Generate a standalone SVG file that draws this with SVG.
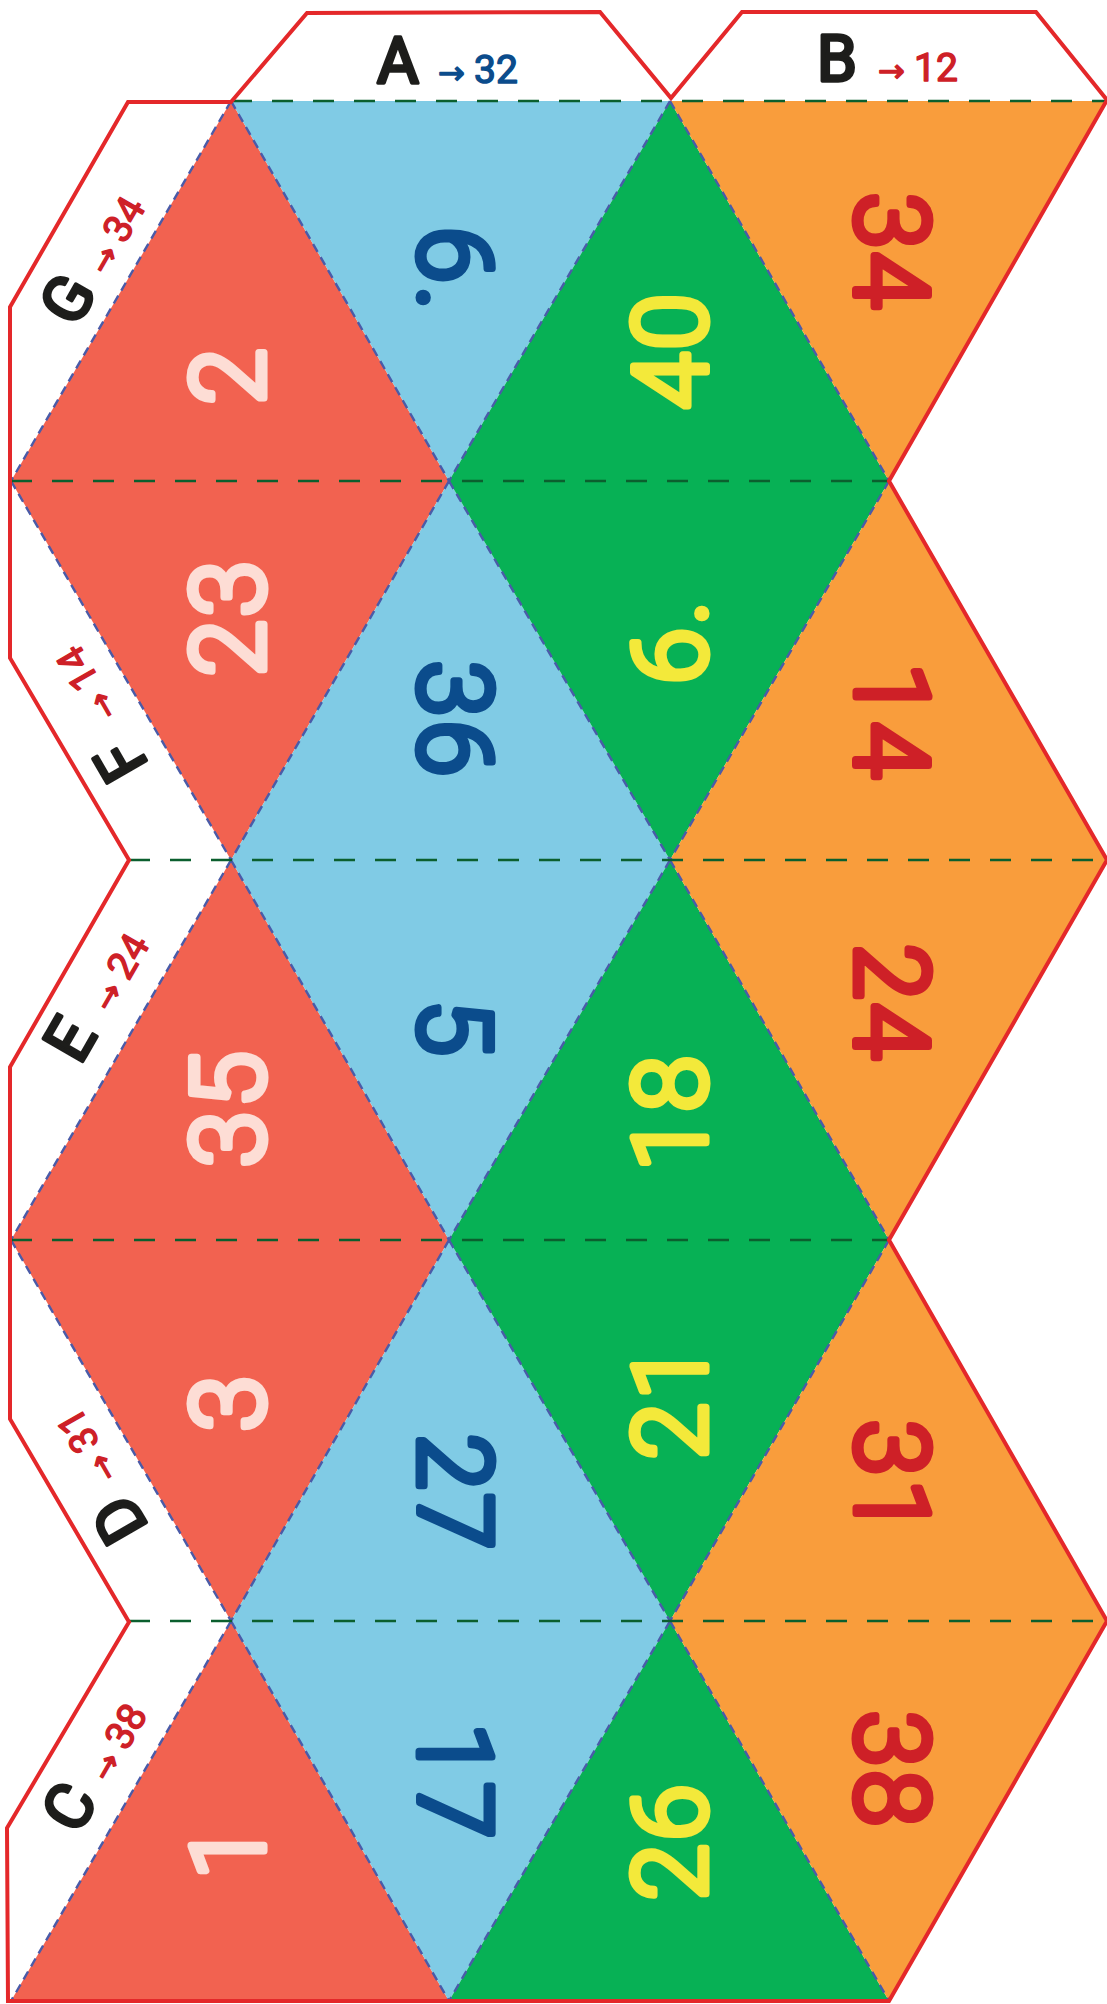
<svg xmlns="http://www.w3.org/2000/svg" width="1107" height="2004" viewBox="0 0 1107 2004">
<style>
text{font-family:Roboto,"Liberation Sans",Arial,sans-serif;stroke-linejoin:round;stroke-linecap:round}
.n{font-size:102px;font-weight:300;text-anchor:middle;stroke-width:7px;letter-spacing:3px}
.r{fill:#F26250}.b{fill:#80CBE5}.g{fill:#07B155}.o{fill:#F99D3C}
.rt{fill:#FDDDD5;stroke:#FDDDD5}.bt{fill:#0B4C8C;stroke:#0B4C8C}.gt{fill:#F3E93A;stroke:#F3E93A}.ot{fill:#CE2027;stroke:#CE2027}
.l{font-size:64px;font-weight:400;fill:#1D1D1B;stroke:#1D1D1B;stroke-width:3.5px}
.s{font-size:39px;font-weight:400;stroke-width:1.4px}
.a{font-family:"DejaVu Sans",sans-serif;font-size:32px}
.red{fill:#CE2027;stroke:#CE2027}.blue{fill:#0B4C8C;stroke:#0B4C8C}
.h{stroke:#0B5F2E;stroke-width:2.6;stroke-dasharray:21 20;fill:none}
.d{stroke:#4A5BA8;stroke-width:2.4;stroke-dasharray:9 6;fill:none}
.cut{stroke:#E4282A;stroke-width:4;fill:none;stroke-linejoin:miter}
</style>
<g id="faces">
<g id="t2"><path class="r" d="M231 101L11 481H449Z"/><text class="n rt" transform="translate(227 375) rotate(-90)" y="37">2</text></g>
<g id="t23"><path class="r" d="M11 481H449L231 860Z"/><text class="n rt" transform="translate(227 617) rotate(-90)" y="37">23</text></g>
<g id="t35"><path class="r" d="M231 860L11 1240H449Z"/><text class="n rt" transform="translate(227 1108) rotate(-90)" y="37">35</text></g>
<g id="t3"><path class="r" d="M11 1240H449L231 1621Z"/><text class="n rt" transform="translate(227 1402) rotate(-90)" y="37">3</text></g>
<g id="t1"><path class="r" d="M231 1621L11 2001H449Z"/><text class="n rt" transform="translate(227 1850) rotate(-90)" y="37">1</text></g>
<g id="t6"><path class="b" d="M231 101H670L449 481Z"/><text class="n bt" transform="translate(456 270) rotate(90)" y="37">6.</text></g>
<g id="t36"><path class="b" d="M449 481L231 860H670Z"/><text class="n bt" transform="translate(456 720) rotate(90)" y="37">36</text></g>
<g id="t5"><path class="b" d="M231 860H670L449 1240Z"/><text class="n bt" transform="translate(456 1029) rotate(90)" y="37">5</text></g>
<g id="t27"><path class="b" d="M449 1240L231 1621H670Z"/><text class="n bt" transform="translate(456 1493) rotate(90)" y="37">27</text></g>
<g id="t17"><path class="b" d="M231 1621H670L449 2001Z"/><text class="n bt" transform="translate(456 1782) rotate(90)" y="37">17</text></g>
<g id="t40"><path class="g" d="M670 101L449 481H889Z"/><text class="n gt" transform="translate(669 350) rotate(-90)" y="37">40</text></g>
<g id="t6b"><path class="g" d="M449 481H889L670 860Z"/><text class="n gt" transform="translate(669 641) rotate(-90)" y="37">6.</text></g>
<g id="t18"><path class="g" d="M670 860L449 1240H889Z"/><text class="n gt" transform="translate(669 1112) rotate(-90)" y="37">18</text></g>
<g id="t21"><path class="g" d="M449 1240H889L670 1621Z"/><text class="n gt" transform="translate(669 1400) rotate(-90)" y="37">21</text></g>
<g id="t26"><path class="g" d="M670 1621L449 2001H889Z"/><text class="n gt" transform="translate(669 1841) rotate(-90)" y="37">26</text></g>
<g id="t34"><path class="o" d="M670 101H1107L889 481Z"/><text class="n ot" transform="translate(893 252) rotate(90)" y="37">34</text></g>
<g id="t14"><path class="o" d="M889 481L670 860H1107Z"/><text class="n ot" transform="translate(893 722) rotate(90)" y="37">14</text></g>
<g id="t24"><path class="o" d="M670 860H1107L889 1240Z"/><text class="n ot" transform="translate(893 1003) rotate(90)" y="37">24</text></g>
<g id="t31"><path class="o" d="M889 1240L670 1621H1107Z"/><text class="n ot" transform="translate(893 1479) rotate(90)" y="37">31</text></g>
<g id="t38"><path class="o" d="M670 1621H1107L889 2001Z"/><text class="n ot" transform="translate(893 1770) rotate(90)" y="37">38</text></g>
</g>
<g id="connectors">
<path class="d" d="M231 101L11 481M231 101L449 481M670 101L449 481M670 101L889 481"/>
<path class="d" d="M11 481L231 860M449 481L231 860M449 481L670 860M889 481L670 860"/>
<path class="d" d="M231 860L11 1240M231 860L449 1240M670 860L449 1240M670 860L889 1240"/>
<path class="d" d="M11 1240L231 1621M449 1240L231 1621M449 1240L670 1621M889 1240L670 1621"/>
<path class="d" d="M231 1621L11 2001M231 1621L449 2001M670 1621L449 2001M670 1621L889 2001"/>
<path class="h" d="M231 101H1107M11 481H889M129 860H1107M11 1240H889M129 1621H1107"/>
</g>
<g id="outline">
<path class="cut" d="M231 102L307 13L600 12L671 98L742 12L1036 12L1107 100L889 481L1107 860L889 1240L1107 1621L889 2001L8 2001L7 1828L129 1622L10 1419L10 1067L129 860L10 658L10 307L128 102Z"/>
</g>
<g id="flap-A" transform="translate(377 83)"><text class="l">A</text><text class="s blue"><tspan class="a" x="61" y="1">→</tspan><tspan x="97" y="0">32</tspan></text></g>
<g id="flap-B" transform="translate(817 81)"><text class="l">B</text><text class="s red"><tspan class="a" x="61" y="1">→</tspan><tspan x="97" y="0">12</tspan></text></g>
<g id="flap-G" transform="translate(76 329) rotate(-60)"><text class="l">G</text><text class="s red"><tspan class="a" x="61" y="1">→</tspan><tspan x="97" y="0">34</tspan></text></g>
<g id="flap-F" transform="translate(149 765) rotate(-120)"><text class="l">F</text><text class="s red"><tspan class="a" x="61" y="1">→</tspan><tspan x="97" y="0">14</tspan></text></g>
<g id="flap-E" transform="translate(80 1066) rotate(-60)"><text class="l">E</text><text class="s red"><tspan class="a" x="61" y="1">→</tspan><tspan x="97" y="0">24</tspan></text></g>
<g id="flap-D" transform="translate(149 1527) rotate(-120)"><text class="l">D</text><text class="s red"><tspan class="a" x="61" y="1">→</tspan><tspan x="97" y="0">31</tspan></text></g>
<g id="flap-C" transform="translate(78 1836) rotate(-60)"><text class="l">C</text><text class="s red"><tspan class="a" x="61" y="1">→</tspan><tspan x="97" y="0">38</tspan></text></g>
</svg>
